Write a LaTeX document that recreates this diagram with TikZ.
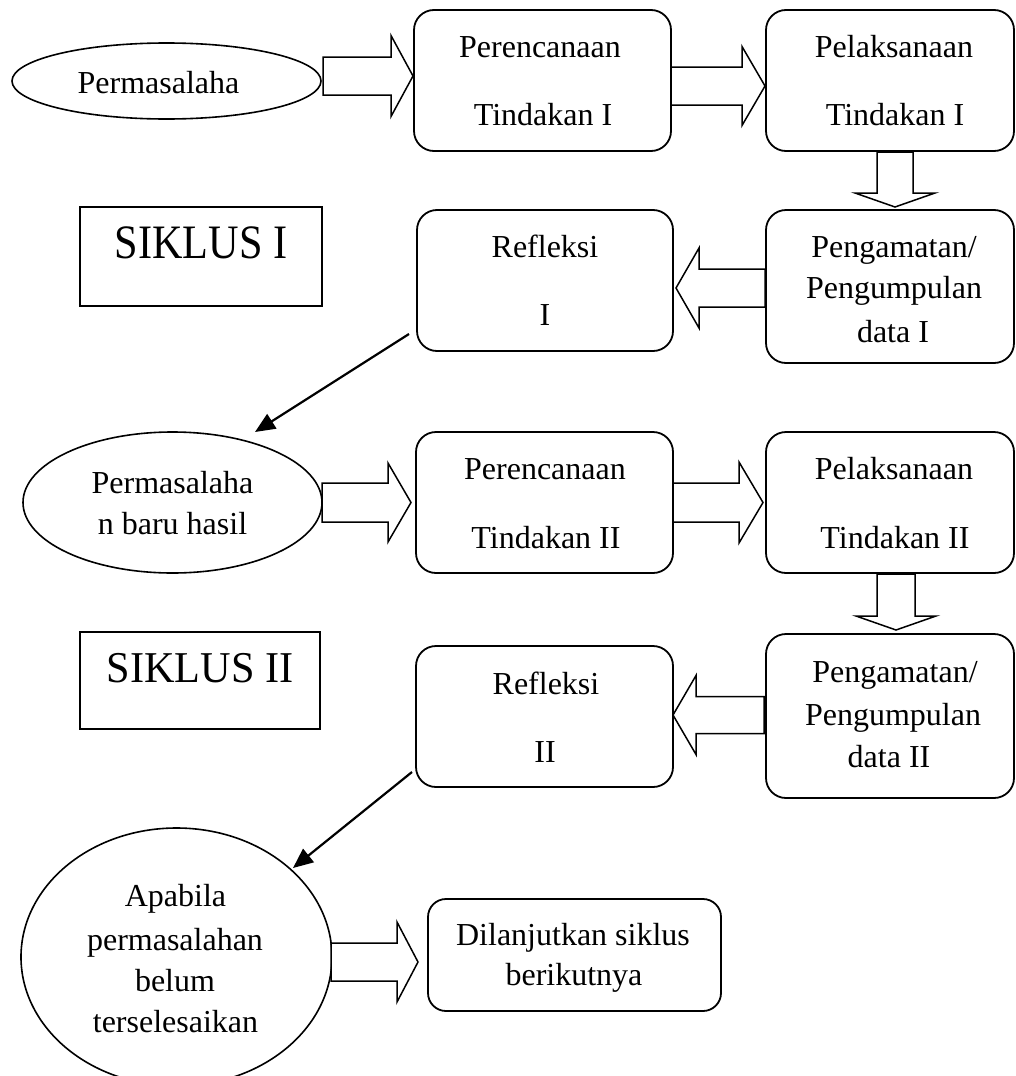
\documentclass[tikz,border=0pt]{standalone}
\usepackage{fontspec}
\setmainfont{Liberation Serif}
\newfontfamily\siklusf{Liberation Serif}[FakeStretch=0.88]
\newfontfamily\sikluss{Liberation Serif}[FakeStretch=0.96]
\usetikzlibrary{arrows.meta,shapes.geometric}
\newcommand\rarrow[6]{%
  \draw[blk] (#1,#4-#5) -- (#2,#4-#5) -- (#2,#4-#6) -- (#3,#4) -- (#2,#4+#6) -- (#2,#4+#5) -- (#1,#4+#5) -- cycle;}
\newcommand\darrow[6]{%
  \draw[blk] (#1-#5,#2) -- (#1-#5,#3) -- (#1-#6,#3) -- (#1,#4) -- (#1+#6,#3) -- (#1+#5,#3) -- (#1+#5,#2) -- cycle;}
\begin{document}
\begin{tikzpicture}[x=1pt,y=-1pt,
  rbox/.style={draw,line width=1.8pt,rounded corners=20pt,inner sep=0pt},
  sbox/.style={draw,line width=1.4pt,inner sep=0pt},
  oval/.style={draw,ellipse,line width=1.6pt,inner sep=0pt},
  txt/.style={anchor=base,inner sep=0pt,font={\fontsize{32}{32}\selectfont}},
  blk/.style={draw,line width=1.5pt,line join=miter,fill=white},
  conn/.style={line width=2.2pt,-{Triangle[length=20pt,width=17pt]}}
]
\useasboundingbox (0,0) rectangle (1015,1076);

% ---- shapes ----
\node[oval,minimum width=309pt,minimum height=76pt] (e1) at (166.5,81) {};
\node[rbox,minimum width=257pt,minimum height=141pt] (b1) at (542.5,80.5) {};
\node[rbox,minimum width=248pt,minimum height=141pt] (b2) at (890,80.5) {};
\node[rbox,minimum width=248pt,minimum height=153pt] (b3) at (890,286.5) {};
\node[rbox,minimum width=256pt,minimum height=141pt] (b4) at (545,280.5) {};
\node[sbox,minimum width=242pt,minimum height=99pt] (s1) at (201,256.5) {};
\node[oval,minimum width=299pt,minimum height=141pt] (e2) at (172.5,502.5) {};
\node[rbox,minimum width=257pt,minimum height=141pt] (b5) at (544.5,502.5) {};
\node[rbox,minimum width=248pt,minimum height=141pt] (b6) at (890,502.5) {};
\node[rbox,minimum width=248pt,minimum height=164pt] (b7) at (890,716) {};
\node[rbox,minimum width=257pt,minimum height=141pt] (b8) at (544.5,716.5) {};
\node[sbox,minimum width=240pt,minimum height=97pt] (s2) at (200,680.5) {};
\node[oval,minimum width=311pt,minimum height=258pt] (e3) at (176.5,957) {};
\node[rbox,rounded corners=18pt,minimum width=293pt,minimum height=112pt] (b9) at (574.5,955) {};

% ---- block arrows ----
\rarrow{323}{391}{413}{76}{19}{40.5}
\rarrow{671}{742}{765}{86}{19}{39.5}
\darrow{895}{152}{193}{207}{18}{40}
\rarrow{765}{699}{676}{288}{19}{40}
\rarrow{322}{388}{411}{502.5}{19.5}{39.5}
\rarrow{673}{739}{763}{502.5}{19.5}{40.5}
\darrow{896}{574}{616}{630}{19}{40}
\rarrow{764}{696}{673}{715}{18.5}{39.5}
\rarrow{331}{397}{418}{962}{19}{40}

% ---- line connectors ----
\coordinate (d1s) at (409,334);
\coordinate (d1e) at (255,432);
\coordinate (d2s) at (412,772);
\coordinate (d2e) at (293,868);
\draw[conn] (d1s) -- (d1e);
\draw[conn] (d2s) -- (d2e);

% ---- texts ----
\node[txt] (t1) at (158.5,93) {Permasalaha};
\node[txt] (t2) at (540,57) {Perencanaan};
\node[txt] (t3) at (543,125) {Tindakan I};
\node[txt] (t4) at (894,57) {Pelaksanaan};
\node[txt] (t5) at (895,125) {Tindakan I};
\node[txt] (t6) at (894,257) {Pengamatan/};
\node[txt] (t7) at (894,298) {Pengumpulan};
\node[txt] (t8) at (893,342) {data I};
\node[txt] (t9) at (545,257) {Refleksi};
\node[txt] (t10) at (545,325) {I};
\node[anchor=base,inner sep=0pt,font={\siklusf\fontsize{48}{48}\selectfont}] (t11) at (201,258) {SIKLUS I};
\node[txt] (t12) at (172.5,493) {Permasalaha};
\node[txt] (t13) at (172.5,534) {n baru hasil};
\node[txt] (t14) at (545,479) {Perencanaan};
\node[txt] (t15) at (546,548) {Tindakan II};
\node[txt] (t16) at (894,479) {Pelaksanaan};
\node[txt] (t17) at (895,548) {Tindakan II};
\node[anchor=base,inner sep=0pt,font={\sikluss\fontsize{44}{44}\selectfont}] (t18) at (200,682) {SIKLUS II};
\node[txt] (t19) at (895,682) {Pengamatan/};
\node[txt] (t20) at (893,725) {Pengumpulan};
\node[txt] (t21) at (889,767) {data II};
\node[txt] (t22) at (546,694) {Refleksi};
\node[txt] (t23) at (545,762) {II};
\node[txt] (t24) at (175.5,906) {Apabila};
\node[txt] (t25) at (175,950) {permasalahan};
\node[txt] (t26) at (175,991) {belum};
\node[txt] (t27) at (175.5,1032) {terselesaikan};
\node[txt] (t28) at (573,945) {Dilanjutkan siklus};
\node[txt] (t29) at (574,985) {berikutnya};
\end{tikzpicture}
\end{document}
